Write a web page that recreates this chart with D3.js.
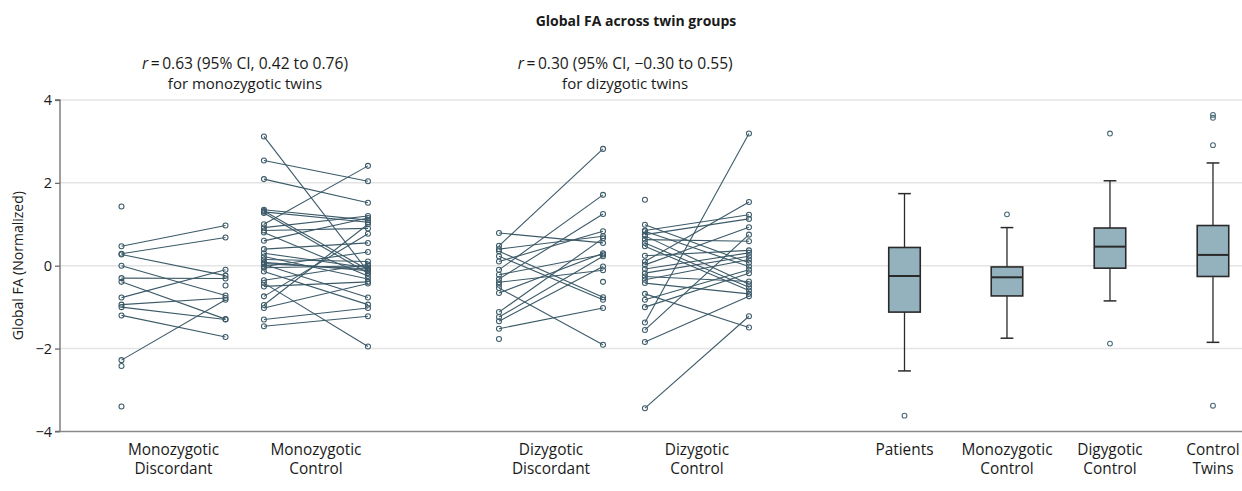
<!DOCTYPE html>
<html>
<head>
<meta charset="utf-8">
<script src="https://cdn.jsdelivr.net/npm/d3@7"></script>
<style>
  html, body { margin: 0; padding: 0; background: #fff; }
  svg { display: block; font-family: "Open Sans", "DejaVu Sans", sans-serif; }
</style>
</head>
<body>
<svg id="chart" width="1242" height="491"></svg>
<script>
// ---------------- DATA ----------------
const title = "Global FA across twin groups";
const yTicks = [-4, -2, 0, 2, 4];
const yLabel = "Global FA (Normalized)";

const pairCategories = [
  ["Monozygotic", "Discordant"],
  ["Monozygotic", "Control"],
  ["Dizygotic", "Discordant"],
  ["Dizygotic", "Control"]
];
const boxCategories = [
  ["Patients"],
  ["Monozygotic", "Control"],
  ["Digygotic", "Control"],
  ["Control", "Twins"]
];

// paired values: twin 1 (left column) and twin 2 (right column); null = unpaired
const mzDiscordantTwin1 = [0.47, 0.29, 0.27, 0.00, -0.30, -0.39, -0.77, -0.94, -1.00, -1.20, -2.28, 1.43, -2.42, -3.40, null];
const mzDiscordantTwin2 = [0.97, 0.68, -0.24, -0.72, -0.31, -1.29, -0.10, -0.78, -1.30, -1.72, -0.82, null, null, null, -0.48];

const mzControlTwin1 = [3.12, 2.54, 2.09, 1.35, 1.30, 1.27, 1.00, 0.92, 0.85, 0.80, 0.60, 0.40, 0.30, 0.22, 0.15, 0.08, 0.03, -0.02, -0.14, -0.35, -0.42, -0.50, -0.74, -0.95, -1.02, -1.30, -1.46, 0.05, -0.05, 1.32];
const mzControlTwin2 = [-0.14, 2.04, 1.52, 1.10, 1.05, -0.18, 2.41, 1.20, 0.90, -0.25, 1.15, 0.55, -0.05, -0.32, 0.10, -0.12, -0.77, 0.33, -0.94, 0.03, -1.95, -0.39, 0.77, 1.00, -0.43, -1.02, -1.22, -0.08, 0.00, -0.10];

const dzDiscordantTwin1 = [0.79, 0.48, 0.40, 0.35, 0.23, 0.10, -0.10, -0.22, -0.32, -0.40, -0.54, -0.66, -1.12, -1.24, -1.34, -1.52, -0.46, -1.77, null];
const dzDiscordantTwin2 = [0.55, 2.82, 0.71, -0.76, -0.82, 0.83, 1.71, 0.27, 1.25, -0.11, -1.91, 0.30, 0.66, 0.23, -0.02, -1.02, null, null, -0.39];

const dzControlTwin1 = [-1.37, 0.10, 0.85, 0.75, 0.99, 0.02, -1.55, 0.63, 0.55, 0.47, 0.24, -0.08, -0.18, -0.26, -0.34, -0.42, 0.72, -0.68, -0.82, -1.00, -1.84, -3.44, 0.83, 1.59];
const dzControlTwin2 = [3.19, 1.54, 1.23, 1.13, 0.07, 0.93, 0.75, 0.59, -0.52, -0.60, 0.37, 0.31, 0.23, -0.38, 0.15, -0.68, -0.45, -1.49, -0.10, -0.18, -0.74, -1.22, -0.02, null];

// box plot summaries (order as boxCategories)
const boxWhiskerLow  = [-2.54, -1.75, -0.85, -1.85];
const boxQ1          = [-1.12, -0.73, -0.06, -0.26];
const boxMedian      = [-0.25, -0.28, 0.46, 0.26];
const boxQ3          = [0.44, -0.03, 0.91, 0.97];
const boxWhiskerHigh = [1.74, 0.92, 2.05, 2.48];
const boxOutliers    = [[-3.62], [1.24], [3.19, -1.88], [3.64, 3.57, 2.91, -3.38]];

const annotations = [
  { r: "0.63", ci: " (95% CI, 0.42 to 0.76)", line2: "for monozygotic twins" },
  { r: "0.30", ci: " (95% CI, \u22120.30 to 0.55)", line2: "for dizygotic twins" }
];

// ---------------- LAYOUT ----------------
const plotLeft = 60, plotRight = 1242, plotTop = 100, plotBottom = 431.4;
const unit = 103;                        // px per slot unit
const pairCenters = [1.102, 2.485, 4.767, 6.184];  // slot units
const boxCenters = [8.199, 9.194, 10.194, 11.194];
const twinOffset = 0.505;

const svg = d3.select("#chart");
const x = d3.scaleLinear().domain([0, (plotRight - plotLeft) / unit]).range([plotLeft, plotRight]);
const y = d3.scaleLinear().domain([-4, 4]).range([plotBottom, plotTop]);

const ink = "#3c5a68";
const textColor = "#1a1a1a";

// gridlines
svg.append("g").selectAll("line").data(yTicks.filter(d => d > -4)).join("line")
  .attr("x1", plotLeft).attr("x2", plotRight)
  .attr("y1", d => y(d)).attr("y2", d => y(d))
  .attr("stroke", "#e4e4e4").attr("stroke-width", 1.5);

// y axis
const yAxis = svg.append("g").attr("transform", `translate(${plotLeft},0)`)
  .call(d3.axisLeft(y).tickValues(yTicks).tickSize(5).tickPadding(3).tickFormat(d => d < 0 ? "\u2212" + Math.abs(d) : d));
yAxis.select(".domain").attr("stroke", "#6b6b6b").attr("stroke-width", 1.3).attr("d", `M-5,${y(4)}H0V${y(-4)}H-5`);
yAxis.selectAll(".tick line").attr("stroke", "#6b6b6b").attr("stroke-width", 1.3);
yAxis.selectAll(".tick text").attr("font-size", 14.5).attr("fill", textColor).attr("font-family", "'Open Sans', sans-serif");

// x axis line (bottom)
svg.append("line").attr("x1", plotLeft).attr("x2", plotRight)
  .attr("y1", y(-4)).attr("y2", y(-4)).attr("stroke", "#8a8a8a").attr("stroke-width", 1.5);

// y label
svg.append("text").attr("transform", `translate(23,${y(0)}) rotate(-90)`)
  .attr("text-anchor", "middle").attr("font-size", 14).attr("fill", textColor).text(yLabel);

// title
svg.append("text").attr("x", 636).attr("y", 26).attr("text-anchor", "middle")
  .attr("font-size", 14).attr("font-weight", 700).attr("fill", textColor).text(title);

// annotations
const annX = [x(1.796), x(5.487)];
annotations.forEach((a, i) => {
  const t = svg.append("text").attr("x", annX[i]).attr("y", 68.5).attr("text-anchor", "middle")
    .attr("font-size", 15.6).attr("fill", textColor);
  t.append("tspan").attr("font-style", "italic").text("r");
  t.append("tspan").text("\u2009=\u2009" + a.r + a.ci);
  svg.append("text").attr("x", annX[i]).attr("y", 89).attr("text-anchor", "middle")
    .attr("font-size", 15).attr("fill", textColor).text(a.line2);
});

// category labels
function catLabel(lines, cx) {
  const t = svg.append("text").attr("text-anchor", "middle").attr("font-size", 15.4).attr("fill", textColor);
  lines.forEach((l, k) => t.append("tspan").attr("x", x(cx)).attr("y", 455 + k * 19).text(l));
}
pairCategories.forEach((c, i) => catLabel(c, pairCenters[i]));
boxCategories.forEach((c, i) => catLabel(c, boxCenters[i]));

// paired groups
const pairSets = [
  [mzDiscordantTwin1, mzDiscordantTwin2],
  [mzControlTwin1, mzControlTwin2],
  [dzDiscordantTwin1, dzDiscordantTwin2],
  [dzControlTwin1, dzControlTwin2]
];
pairSets.forEach(([t1, t2], gi) => {
  const g = svg.append("g");
  const xl = x(pairCenters[gi] - twinOffset), xr = x(pairCenters[gi] + twinOffset);
  const pairs = t1.map((v, k) => ({ a: v, b: t2[k] }));
  g.selectAll("line").data(pairs.filter(p => p.a != null && p.b != null)).join("line")
    .attr("x1", xl).attr("x2", xr)
    .attr("y1", p => y(p.a)).attr("y2", p => y(p.b))
    .attr("stroke", ink).attr("stroke-width", 1.1);
  const pts = [];
  pairs.forEach(p => {
    if (p.a != null) pts.push({ cx: xl, v: p.a });
    if (p.b != null) pts.push({ cx: xr, v: p.b });
  });
  g.selectAll("circle").data(pts).join("circle")
    .attr("cx", d => d.cx).attr("cy", d => y(d.v)).attr("r", 2.5)
    .attr("fill", "none").attr("stroke", ink).attr("stroke-width", 1.05);
});

// box plots
const halfBox = 0.153, halfCap = 0.062;
boxCenters.forEach((c, i) => {
  const g = svg.append("g");
  const stroke = "#2a2a2a";
  g.append("line").attr("x1", x(c)).attr("x2", x(c)).attr("y1", y(boxWhiskerHigh[i])).attr("y2", y(boxQ3[i]))
    .attr("stroke", stroke).attr("stroke-width", 1.3);
  g.append("line").attr("x1", x(c)).attr("x2", x(c)).attr("y1", y(boxQ1[i])).attr("y2", y(boxWhiskerLow[i]))
    .attr("stroke", stroke).attr("stroke-width", 1.3);
  [boxWhiskerHigh[i], boxWhiskerLow[i]].forEach(v => {
    g.append("line").attr("x1", x(c - halfCap)).attr("x2", x(c + halfCap)).attr("y1", y(v)).attr("y2", y(v))
      .attr("stroke", stroke).attr("stroke-width", 1.5);
  });
  g.append("rect").attr("x", x(c - halfBox)).attr("width", x(c + halfBox) - x(c - halfBox))
    .attr("y", y(boxQ3[i])).attr("height", y(boxQ1[i]) - y(boxQ3[i]))
    .attr("fill", "#93b2be").attr("stroke", stroke).attr("stroke-width", 1.6);
  g.append("line").attr("x1", x(c - halfBox)).attr("x2", x(c + halfBox)).attr("y1", y(boxMedian[i])).attr("y2", y(boxMedian[i]))
    .attr("stroke", stroke).attr("stroke-width", 2);
  g.selectAll("circle").data(boxOutliers[i]).join("circle")
    .attr("cx", x(c)).attr("cy", d => y(d)).attr("r", 2.4)
    .attr("fill", "none").attr("stroke", "#4a6a78").attr("stroke-width", 1.1);
});
</script>
</body>
</html>
